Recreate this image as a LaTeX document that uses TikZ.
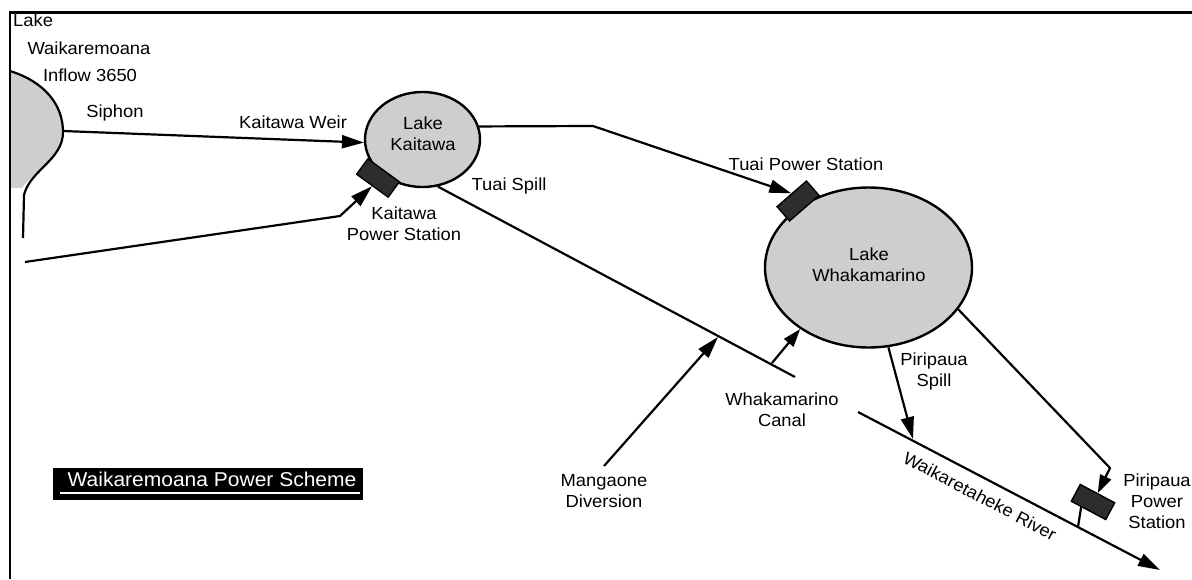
\documentclass[tikz,border=0pt]{standalone}
\usepackage{fontspec}
\setmainfont{Liberation Sans}[FakeStretch=1.05]
\usetikzlibrary{arrows.meta,shapes.geometric,calc}
\definecolor{lakefill}{RGB}{206,206,206}
\definecolor{psfill}{RGB}{45,45,45}
\tikzset{
  flow/.style={line width=2.2pt, line join=round},
  arr/.style={flow, -{Triangle[length=22pt,width=13pt]}},
  shortarr/.style={flow, -{Triangle[length=18pt,width=12pt]}},
  lake/.style={ellipse, draw, line width=2.4pt, fill=lakefill, inner sep=0pt, align=center},
  station/.style={rectangle, draw, line width=1.4pt, fill=psfill, minimum width=39pt, minimum height=19pt, inner sep=0pt},
  lbl/.style={align=center, inner sep=0pt, font=\fontsize{17.5}{21}\selectfont},
}
\begin{document}
\begin{tikzpicture}[x=1pt,y=-1pt]
\useasboundingbox (0,0) rectangle (1192,579);
\fill[white] (0,0) rectangle (1192,579);
% frame
\draw[line width=2.6pt] (10,579) -- (10,12.5) -- (1192,12.5);

% Lake Waikaremoana (partial shape)
\fill[lakefill] (11,72) .. controls (45,82) and (63,105) .. (63,132)
   .. controls (63,160) and (34,170) .. (22,188) -- (11,188) -- cycle;
\draw[flow] (10,71) .. controls (45,82) and (63,105) .. (63,132)
   .. controls (63,160) and (30,170) .. (24,195) -- (23,238);
\coordinate (ws) at (63,131);

% lakes
\node[lake, minimum width=115pt, minimum height=95pt] (kai) at (422.5,139.5) {};
\node[lbl] (kailbl) at (423,134) {Lake\\Kaitawa};
\node[lake, minimum width=207pt, minimum height=160pt] (wha) at (868.5,267.5) {};
\node[lbl] (whalbl) at (869,265) {Lake\\Whakamarino};

% power stations
\node[station, rotate=-36] (kps) at (378,178) {};
\node[station, rotate=41] (tps) at (798,201) {};
\node[station, rotate=-28] (pps) at (1093,502) {};

% coordinates
\coordinate (kin) at (25,262);
\coordinate (kbend) at (340,216);
\coordinate (tbend) at (593,126);
\coordinate (tsend) at (795,377);
\coordinate (md) at (604,466);
\coordinate (mj) at (718,337);
\coordinate (cj) at (772,363);
\coordinate (rv1) at (858,412);
\coordinate (rv2) at (1160,570);
\coordinate (psj) at (913,439);
\coordinate (pbend) at (1110,468);
\coordinate (prj) at (1078,527);

% connectors
\draw[arr] (ws) -- (kai.183);
\draw[arr] (kin) -- (kbend) -- (kps.south);
\draw[arr] (kai.13) -- (tbend) -- (tps.north);
\draw[flow] (kai.-72) -- (tsend);
\draw[arr] (md) -- (mj);
\draw[shortarr] (cj) -- (wha.222);
\draw[arr] (wha.-76) -- (psj);
\draw[arr] (rv1) -- (rv2);
\draw[shortarr] (wha.-25) -- (pbend) -- (pps.north);
\draw[flow] ($(pps.south west)!0.3!(pps.south east)$) -- (prj);

% labels
\node[lbl, anchor=west] (l1) at (13,20) {Lake};
\node[lbl] (l2) at (89,48) {Waikaremoana};
\node[lbl] (l3) at (90,75) {Inflow 3650};
\node[lbl] (l4) at (115,113) {Siphon};
\node[lbl] (l5) at (293,122) {Kaitawa Weir};
\node[lbl] (l6) at (404,224) {Kaitawa\\Power Station};
\node[lbl] (l7) at (509,186) {Tuai Spill};
\node[lbl] (l8) at (806,164) {Tuai Power Station};
\node[lbl] (l9) at (782,410) {Whakamarino\\Canal};
\node[lbl] (l10) at (604,491) {Mangaone\\Diversion};
\node[lbl] (l11) at (934,371) {Piripaua\\Spill};
\node[lbl, rotate=-27.6] (l12) at (980,496) {Waikaretaheke River};
\node[lbl] (l13) at (1157,501) {Piripaua\\Power\\Station};

% title
\node[fill=black, minimum width=310pt, minimum height=32pt, inner sep=0pt] (tbox) at (208,484) {};
\node[text=white, inner sep=0pt, font=\fontsize{20}{23}\selectfont] (ttl) at (212,479) {Waikaremoana Power Scheme};
\draw[white, line width=2pt] ($(tbox.south west)+(7,-7)$) -- ($(tbox.south east)+(-3,-7)$);
\end{tikzpicture}
\end{document}
